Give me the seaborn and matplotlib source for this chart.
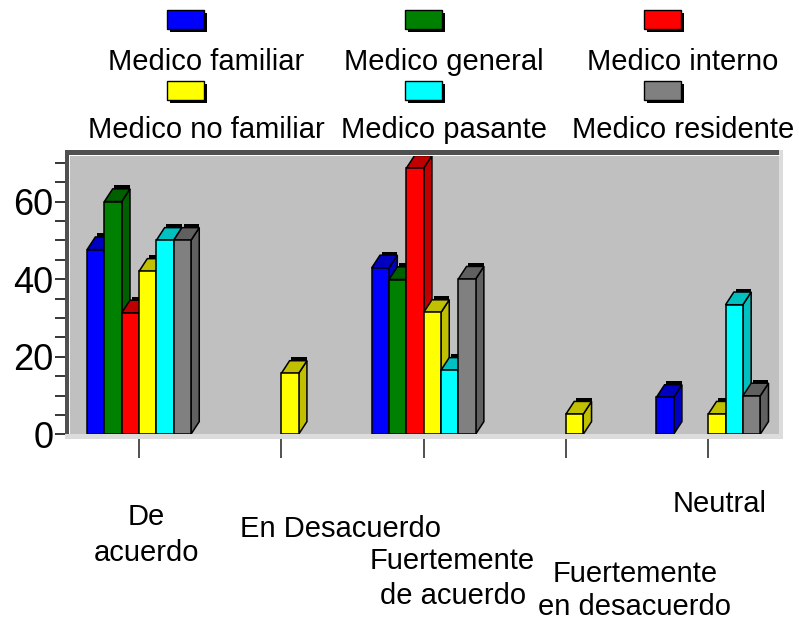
import numpy as np
import pandas as pd
import matplotlib
matplotlib.use("Agg")
import matplotlib.pyplot as plt
from matplotlib.patches import Polygon, Rectangle
from matplotlib.transforms import blended_transform_factory
from matplotlib.colors import to_hex
import seaborn as sns

# ---- data -------------------------------------------------------------
respuestas = ["De acuerdo", "En Desacuerdo", "Fuertemente de acuerdo",
              "Fuertemente en desacuerdo", "Neutral"]
etiquetas_x = ["De\nacuerdo", "En Desacuerdo", "Fuertemente\nde acuerdo",
               "Fuertemente\nen desacuerdo", "Neutral"]
medicos = ["Medico familiar", "Medico general", "Medico interno",
           "Medico no familiar", "Medico pasante", "Medico residente"]

medico_familiar = [47.6, None, 42.9, None, 9.5]
medico_general = [60.0, None, 39.9, None, None]
medico_interno = [31.3, None, 68.6, None, None]
medico_no_familiar = [42.0, 15.7, 31.4, 5.2, 5.2]
medico_pasante = [50.0, None, 16.5, None, 33.4]
medico_residente = [50.0, None, 40.0, None, 9.9]

y_ticks = [0, 20, 40, 60]

# ---- colours ----------------------------------------------------------
frente = ["#0000FF", "#008000", "#FF0000", "#FFFF00", "#00FFFF", "#808080"]
lado = ["#0000C0", "#006000", "#C00000", "#C0C000", "#00C0C0", "#606060"]

series = [medico_familiar, medico_general, medico_interno,
          medico_no_familiar, medico_pasante, medico_residente]
rows = []
for med, vals in zip(medicos, series):
    for resp, v in zip(respuestas, vals):
        if v is not None:
            rows.append({"respuesta": resp, "medico": med, "porcentaje": v})
df = pd.DataFrame(rows)

# ---- figure -----------------------------------------------------------
sns.set_style("white")
plt.rcParams["font.family"] = ["Liberation Sans", "DejaVu Sans"]
plt.rcParams["text.color"] = "black"
plt.rcParams["ytick.labelcolor"] = "black"
plt.rcParams["ytick.color"] = "black"

FW, FH = 799, 621
fig = plt.figure(figsize=(FW / 100, FH / 100), dpi=100)


def fx(x):
    return x / FW


def fy(y):
    return 1 - y / FH


ax_l, ax_r, ax_t, ax_b = 67.85, 779.4, 155.0, 434.3
ax = fig.add_axes([fx(ax_l), fy(ax_b), (ax_r - ax_l) / FW, (ax_b - ax_t) / FH])

ANCHO = 0.73
sns.barplot(data=df, x="respuesta", y="porcentaje", hue="medico",
            order=respuestas, hue_order=medicos, palette=frente,
            saturation=1, width=ANCHO, dodge=True, edgecolor="black",
            linewidth=1.1, legend=False, err_kws={"linewidth": 0}, ax=ax)

ax.set_xlim(-0.5, 4.5)
ax.set_ylim(0, 72)
ax.set_facecolor("#C0C0C0")
for s in ax.spines.values():
    s.set_visible(False)
ax.set_xlabel("")
ax.set_ylabel("")

# pseudo-3D faces for every bar
px_x = (ax_r - ax_l) / 5.0
px_y = (ax_b - ax_t) / 72.0
dx = 8.3 / px_x
dy = 12.7 / px_y
cap_h = 3.5 / px_y
hex_front = [to_hex(c) for c in frente]
for p in list(ax.patches):
    h = p.get_height()
    if not np.isfinite(h) or h <= 0:
        continue
    k = hex_front.index(to_hex(p.get_facecolor()))
    x0 = p.get_x()
    w = p.get_width()
    x1 = x0 + w
    z = 2 + k
    p.set_zorder(z + 0.3)
    ax.add_patch(Polygon([(x1, 0), (x1 + dx, dy), (x1 + dx, h + dy), (x1, h)],
                         closed=True, fc=lado[k], ec="black", lw=1.1,
                         zorder=z + 0.1))
    ax.add_patch(Polygon([(x0, h), (x0 + dx, h + dy), (x1 + dx, h + dy), (x1, h)],
                         closed=True, fc=lado[k], ec="black", lw=1.1,
                         zorder=z + 0.2))
    ax.add_patch(Rectangle((x0 + dx + 0.1 * w, h + dy), w * 0.9, cap_h,
                           fc="black", ec="none", zorder=z + 0.4))

# ticks
ax.set_yticks(y_ticks)
ax.set_yticklabels([str(t) for t in y_ticks])
ax.set_yticks(np.arange(0, 71, 5), minor=True)
ax.tick_params(axis="y", which="both", left=True, direction="out",
               length=9.5, width=1.1, color="black", pad=1)
ax.tick_params(axis="y", which="major", labelsize=26)
ax.set_xticks(range(len(respuestas)))
ax.set_xticklabels([""] * len(respuestas))
ax.tick_params(axis="x", which="major", bottom=True, direction="out",
               length=17.5, width=1.1, color="#202020")

# category labels (baseline given for the last line of each label)
trans = blended_transform_factory(ax.transData, fig.transFigure)
lab_dx = [7, 59, 29, 69, 11]
lab_base = [561, 537, 604, 615, 512]
lab_ls = [1.37, 1.0, 1.31, 1.22, 1.0]
for i, txt in enumerate(etiquetas_x):
    ax.text(i + lab_dx[i] / px_x, fy(lab_base[i]), txt, transform=trans,
            ha="center", va="baseline", fontsize=21, linespacing=lab_ls[i],
            multialignment="center", clip_on=False, color="black")


# frame around the plotting wall
def px_rect(x, y, w, h, **kw):
    fig.add_artist(Rectangle((fx(x), fy(y + h)), w / FW, h / FH,
                             transform=fig.transFigure, **kw))


px_rect(65, 434.3, 718, 4.2, fc="#DCDCDC", ec="none")
px_rect(779.4, 150, 3.8, 288.5, fc="#DCDCDC", ec="none")
px_rect(65, 150, 714.4, 4.5, fc="#505050", ec="none")
px_rect(65, 150, 3.5, 284.3, fc="#505050", ec="none")
px_rect(68.5, 154.5, 711, 1.0, fc="white", ec="none")
px_rect(68.5, 154.5, 1.0, 279.8, fc="white", ec="none")

# legend: swatch above each name
sw_cx = [185, 423.5, 662]
lb_cx = [206, 444, 683]
sw_top = [10, 81]
lb_base = [70, 138]
for i, med in enumerate(medicos):
    r, c = divmod(i, 3)
    sx = sw_cx[c] - 18.5
    sy = sw_top[r]
    px_rect(sx + 3, sy + 3, 37, 19, fc="black", ec="none")
    px_rect(sx, sy, 37, 19, fc=frente[i], ec="black", lw=1.0)
    fig.text(fx(lb_cx[c]), fy(lb_base[r]), med, ha="center", va="baseline",
             fontsize=21, color="black")

fig.savefig("out.png", dpi=100, facecolor="white")
